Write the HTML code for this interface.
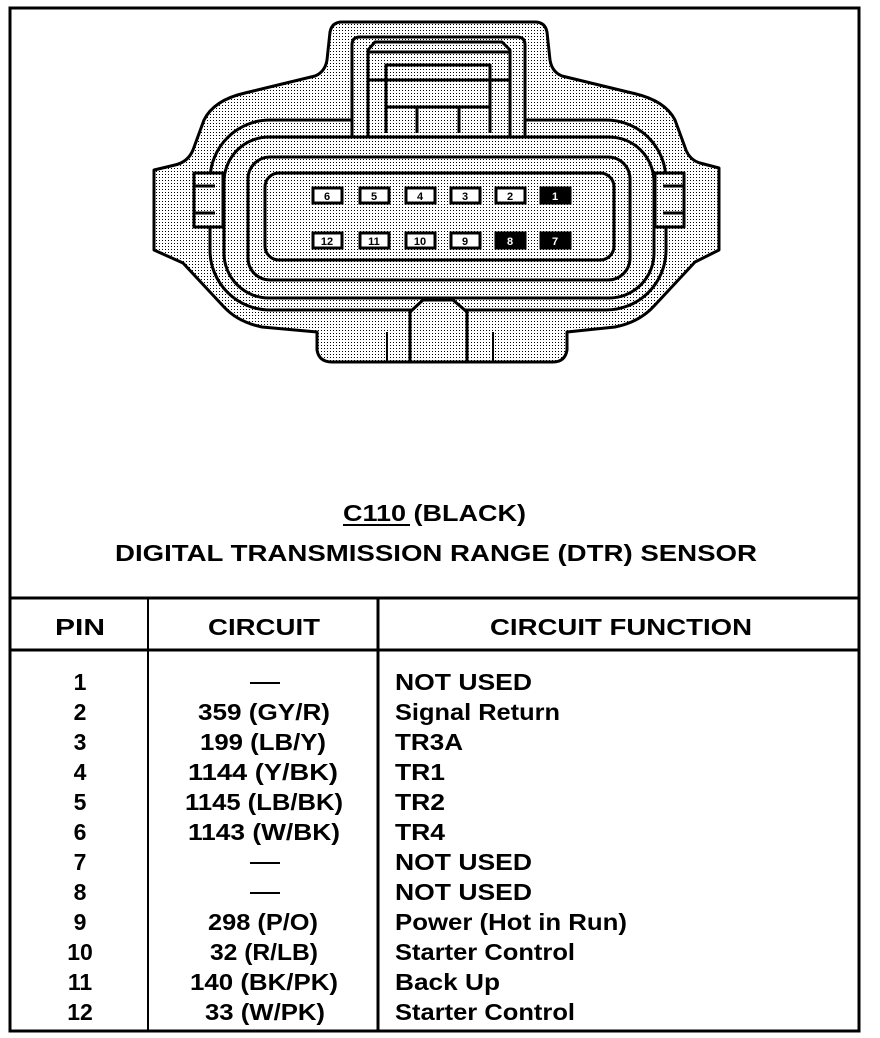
<!DOCTYPE html>
<html><head><style>
html,body{margin:0;padding:0;background:#fff;}
svg{display:block;}
text{font-family:"Liberation Sans",Arial,sans-serif;fill:#000;}
</style></head><body>
<svg width="880" height="1038" viewBox="0 0 880 1038" xmlns="http://www.w3.org/2000/svg">
<defs>
<pattern id="dots" width="3" height="3" patternUnits="userSpaceOnUse">
<rect width="3" height="3" fill="#fff"/><rect width="1" height="1" fill="#000"/>
</pattern>
</defs>
<!-- frame -->
<rect x="10" y="8" width="849" height="1023" fill="none" stroke="#000" stroke-width="3"/>
<line x1="10" y1="598" x2="859" y2="598" stroke="#000" stroke-width="3"/>
<line x1="10" y1="650" x2="859" y2="650" stroke="#000" stroke-width="3"/>
<line x1="148" y1="598" x2="148" y2="1031" stroke="#000" stroke-width="2"/>
<line x1="378" y1="598" x2="378" y2="1031" stroke="#000" stroke-width="3"/>

<!-- connector shell -->
<g stroke="#000" stroke-width="3" stroke-linejoin="round">
<path fill="url(#dots)" d="M342 22 L535 22 Q545 22 547 32 L550 60 Q552 72 562 76 L632 93 Q665 100 675 120 L686 150 Q690 160 700 163 L719 168 L719 250 L695 262 L655 305 Q640 322 615 327 L567 332 L567 350 Q565 362 553 362 L332 362 Q319 362 317 350 L317 332 L262 327 Q238 322 224 307 L183 263 L154 250 L154 170 L175 165 Q188 162 193 150 L204 120 Q214 100 245 93 L315 76 Q325 72 327 60 L330 32 Q332 22 342 22 Z"/>
<rect x="210" y="120" width="456" height="190" rx="60" fill="none"/>
<rect x="224" y="137" width="430" height="161" rx="45" fill="none"/>
<rect x="248" y="157" width="382" height="123" rx="22" fill="none"/>
<rect x="265" y="173" width="349" height="87" rx="14" fill="none"/>
<!-- latch -->
<path fill="url(#dots)" d="M352 137 L352 45 Q352 37 360 37 L517 37 Q525 37 525 45 L525 137 Z"/>
<path fill="none" d="M368 137 L368 50 L375 42 L502 42 L510 50 L510 137"/>
<line x1="368" y1="52" x2="510" y2="52"/>
<path fill="none" d="M386 133 L386 65 L490 65 L490 133"/>
<line x1="368" y1="80" x2="510" y2="80"/>
<line x1="386" y1="107" x2="490" y2="107"/>
<line x1="417" y1="107" x2="417" y2="133"/>
<line x1="459" y1="107" x2="459" y2="133"/>
<!-- ears -->
<path fill="url(#dots)" d="M194 173 L223 173 L223 227 L194 227 Z"/>
<line x1="194" y1="186" x2="215" y2="186"/><line x1="194" y1="213" x2="215" y2="213"/>
<path fill="url(#dots)" d="M655 173 L684 173 L684 227 L655 227 Z"/>
<line x1="663" y1="186" x2="684" y2="186"/><line x1="663" y1="213" x2="684" y2="213"/>
<!-- bottom tab details -->
<path fill="url(#dots)" d="M410 362 L410 312 L423 300 L453 300 L467 312 L467 362 Z"/>
<line x1="387" y1="332" x2="387" y2="362" stroke-width="2"/>
<line x1="493" y1="332" x2="493" y2="362" stroke-width="2"/>
</g>
<!-- pins -->
<g stroke="#000" stroke-width="3" font-size="11" font-weight="bold" text-anchor="middle">
<rect x="313" y="188" width="29" height="15" fill="#fff"/><text x="327" y="200" stroke="none">6</text>
<rect x="360" y="188" width="29" height="15" fill="#fff"/><text x="374" y="200" stroke="none">5</text>
<rect x="406" y="188" width="29" height="15" fill="#fff"/><text x="420" y="200" stroke="none">4</text>
<rect x="451" y="188" width="29" height="15" fill="#fff"/><text x="465" y="200" stroke="none">3</text>
<rect x="496" y="188" width="29" height="15" fill="#fff"/><text x="510" y="200" stroke="none">2</text>
<rect x="541" y="188" width="29" height="15" fill="#000"/><text x="555" y="200" stroke="none" style="fill:#fff">1</text>
<rect x="313" y="233" width="29" height="15" fill="#fff"/><text x="327" y="245" stroke="none">12</text>
<rect x="360" y="233" width="29" height="15" fill="#fff"/><text x="374" y="245" stroke="none">11</text>
<rect x="406" y="233" width="29" height="15" fill="#fff"/><text x="420" y="245" stroke="none">10</text>
<rect x="451" y="233" width="29" height="15" fill="#fff"/><text x="465" y="245" stroke="none">9</text>
<rect x="496" y="233" width="29" height="15" fill="#000"/><text x="510" y="245" stroke="none" style="fill:#fff">8</text>
<rect x="541" y="233" width="29" height="15" fill="#000"/><text x="555" y="245" stroke="none" style="fill:#fff">7</text>
</g>

<!-- titles -->
<g font-weight="bold" font-size="23">
<text x="343" y="521" textLength="183" lengthAdjust="spacingAndGlyphs">C110 (BLACK)</text>
<line x1="343" y1="525" x2="410" y2="525" stroke="#000" stroke-width="2"/>
<text x="115" y="561" textLength="642" lengthAdjust="spacingAndGlyphs">DIGITAL TRANSMISSION RANGE (DTR) SENSOR</text>
<text x="55" y="635" textLength="50" lengthAdjust="spacingAndGlyphs">PIN</text>
<text x="208" y="635" textLength="112" lengthAdjust="spacingAndGlyphs">CIRCUIT</text>
<text x="490" y="635" textLength="262" lengthAdjust="spacingAndGlyphs">CIRCUIT FUNCTION</text>
</g>

<g font-size="23" font-weight="bold" style="font-weight:600">
<g text-anchor="middle">
<text x="80" y="690">1</text><text x="80" y="720">2</text><text x="80" y="750">3</text>
<text x="80" y="780">4</text><text x="80" y="810">5</text><text x="80" y="840">6</text>
<text x="80" y="870">7</text><text x="80" y="900">8</text><text x="80" y="930">9</text>
<text x="80" y="960">10</text><text x="80" y="990">11</text><text x="80" y="1020">12</text>
</g>
<rect x="250" y="682" width="30" height="2"/>
<text x="198" y="720" textLength="132" lengthAdjust="spacingAndGlyphs">359 (GY/R)</text>
<text x="200" y="750" textLength="126" lengthAdjust="spacingAndGlyphs">199 (LB/Y)</text>
<text x="188" y="780" textLength="150" lengthAdjust="spacingAndGlyphs">1144 (Y/BK)</text>
<text x="185" y="810" textLength="158" lengthAdjust="spacingAndGlyphs">1145 (LB/BK)</text>
<text x="188" y="840" textLength="152" lengthAdjust="spacingAndGlyphs">1143 (W/BK)</text>
<rect x="250" y="862" width="30" height="2"/>
<rect x="250" y="892" width="30" height="2"/>
<text x="208" y="930" textLength="110" lengthAdjust="spacingAndGlyphs">298 (P/O)</text>
<text x="210" y="960" textLength="108" lengthAdjust="spacingAndGlyphs">32 (R/LB)</text>
<text x="190" y="990" textLength="148" lengthAdjust="spacingAndGlyphs">140 (BK/PK)</text>
<text x="205" y="1020" textLength="120" lengthAdjust="spacingAndGlyphs">33 (W/PK)</text>

<text x="395" y="690" textLength="137" lengthAdjust="spacingAndGlyphs">NOT USED</text>
<text x="395" y="720" textLength="165" lengthAdjust="spacingAndGlyphs">Signal Return</text>
<text x="395" y="750" textLength="68" lengthAdjust="spacingAndGlyphs">TR3A</text>
<text x="395" y="780" textLength="50" lengthAdjust="spacingAndGlyphs">TR1</text>
<text x="395" y="810" textLength="50" lengthAdjust="spacingAndGlyphs">TR2</text>
<text x="395" y="840" textLength="50" lengthAdjust="spacingAndGlyphs">TR4</text>
<text x="395" y="870" textLength="137" lengthAdjust="spacingAndGlyphs">NOT USED</text>
<text x="395" y="900" textLength="137" lengthAdjust="spacingAndGlyphs">NOT USED</text>
<text x="395" y="930" textLength="232" lengthAdjust="spacingAndGlyphs">Power (Hot in Run)</text>
<text x="395" y="960" textLength="180" lengthAdjust="spacingAndGlyphs">Starter Control</text>
<text x="395" y="990" textLength="105" lengthAdjust="spacingAndGlyphs">Back Up</text>
<text x="395" y="1020" textLength="180" lengthAdjust="spacingAndGlyphs">Starter Control</text>
</g>
</svg>
</body></html>
